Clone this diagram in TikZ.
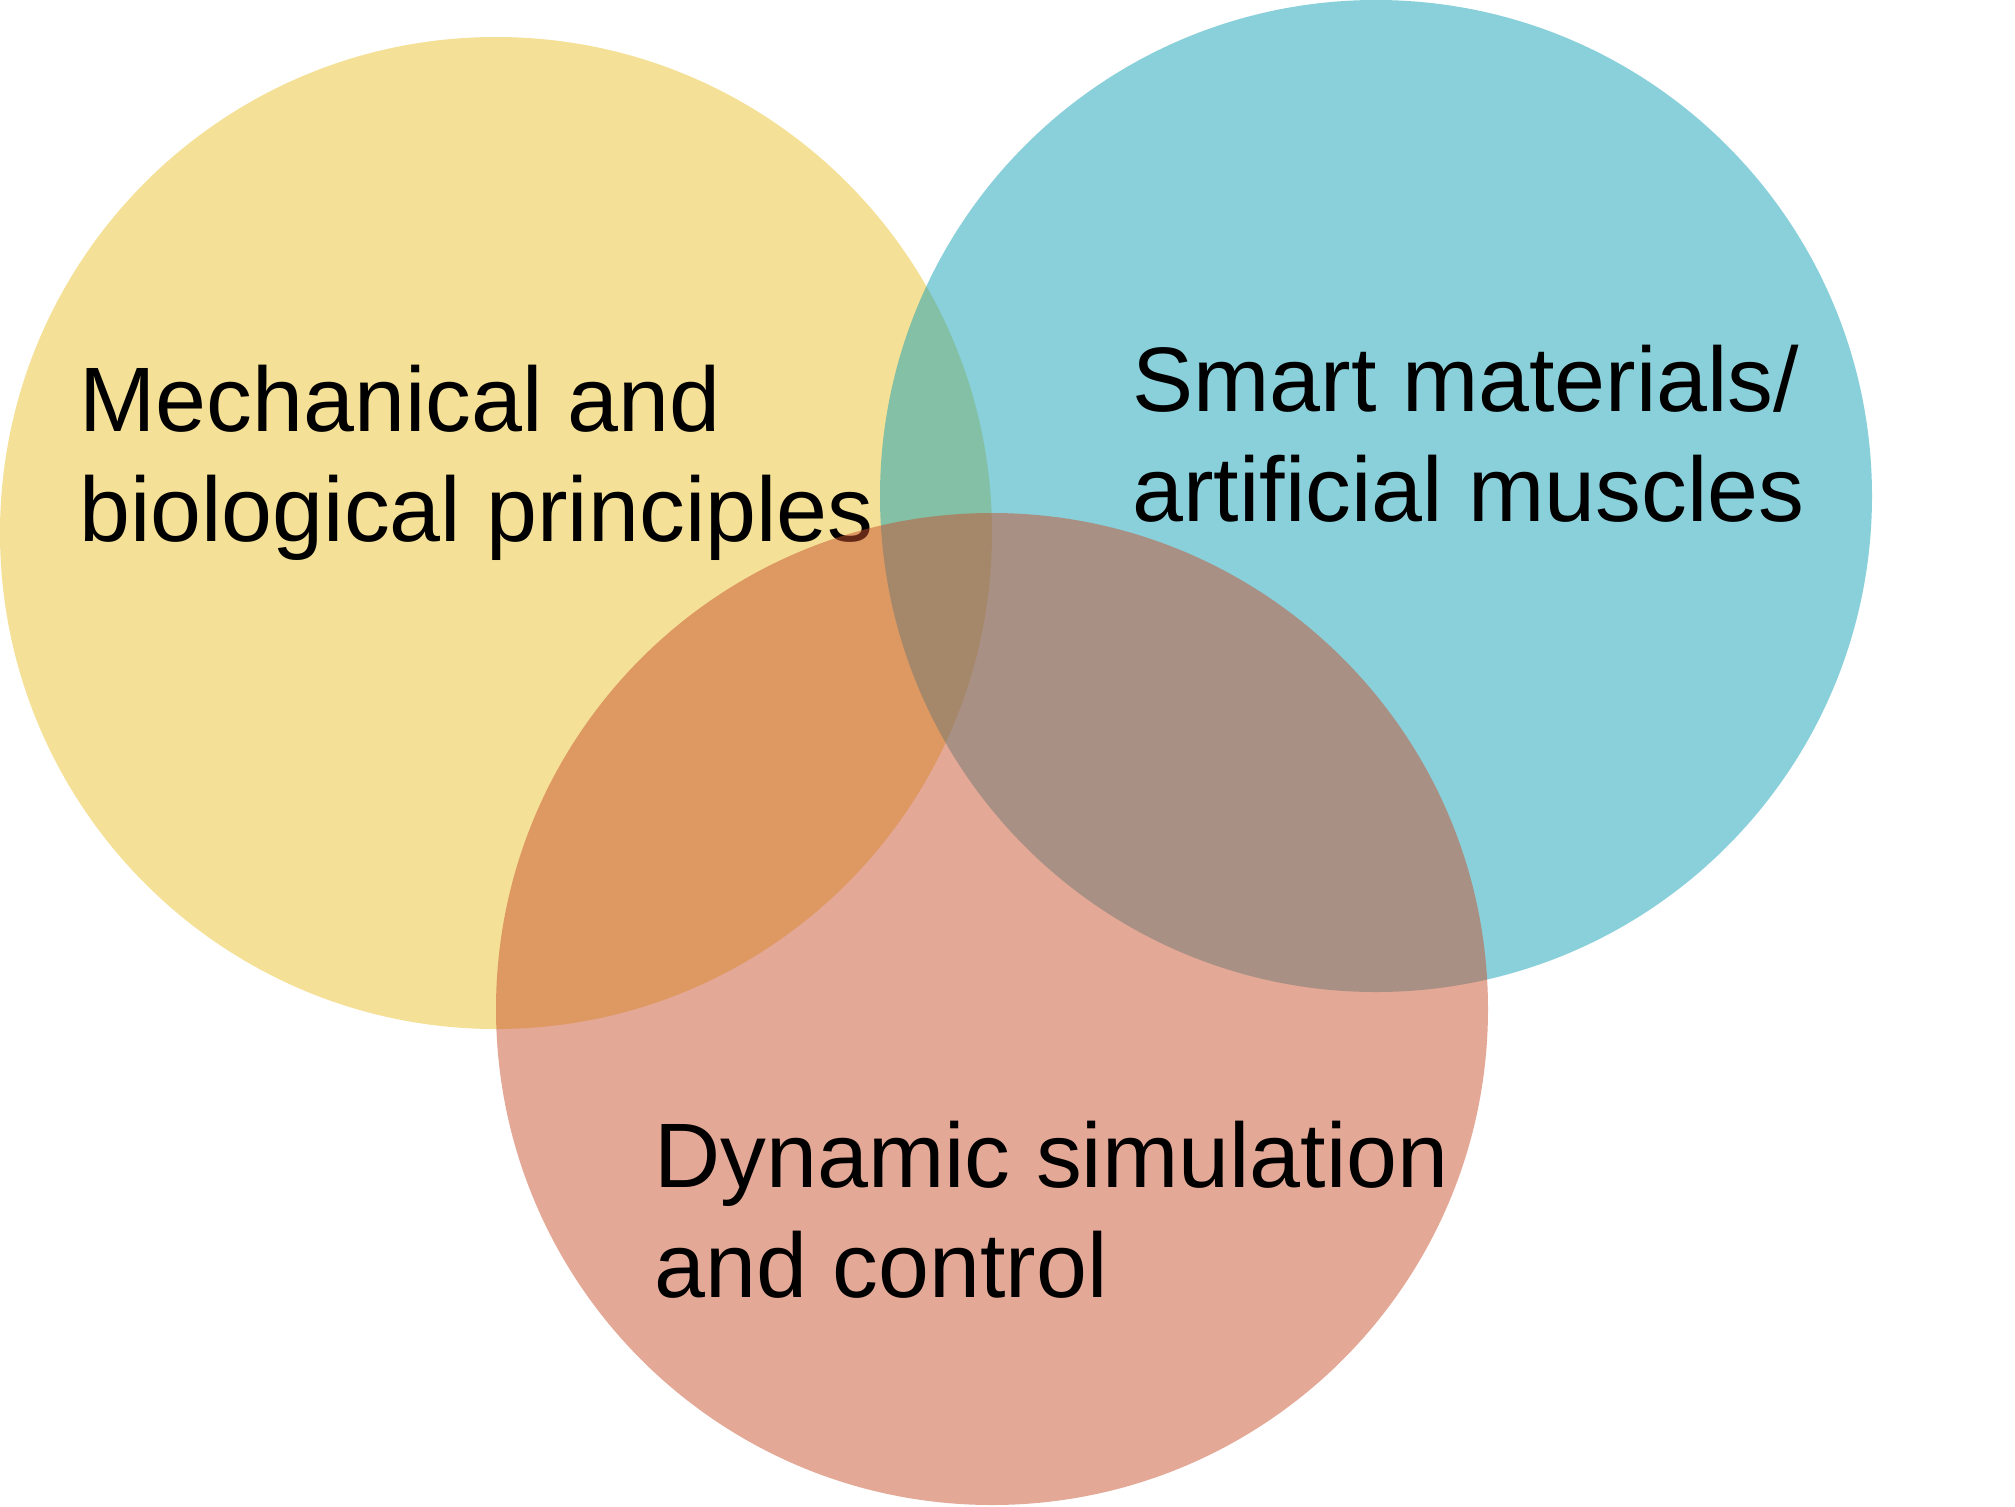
\documentclass[tikz,border=0pt]{standalone}
\usepackage{fontspec}
\setmainfont{Liberation Sans}
\definecolor{cyellow}{RGB}{233,193,45}
\definecolor{cblue}{RGB}{19,161,181}
\definecolor{cred}{RGB}{201,81,47}
\begin{document}
\begin{tikzpicture}[x=0.5pt,y=-0.5pt,
  venn/.style={fill opacity=0.5, draw=none},
  lbl/.style={anchor=base west, inner sep=0pt, align=left, text=black,
    font=\fontsize{45.8pt}{55pt}\selectfont}]
\useasboundingbox (0,0) rectangle (2015,1506);
\fill[venn, cyellow] (496,533) circle [radius=248pt];
\fill[venn, cblue] (1376,496) circle [radius=248pt];
\node[lbl] (mech) at (79,541) {Mechanical and\\biological principles};
\fill[venn, cred] (992,1009) circle [radius=248pt];
\node[lbl] (smart) at (1132,521) {Smart materials/\\artificial muscles};
\node[lbl] (dyn) at (654,1297) {Dynamic simulation\\and control};
\end{tikzpicture}
\end{document}
